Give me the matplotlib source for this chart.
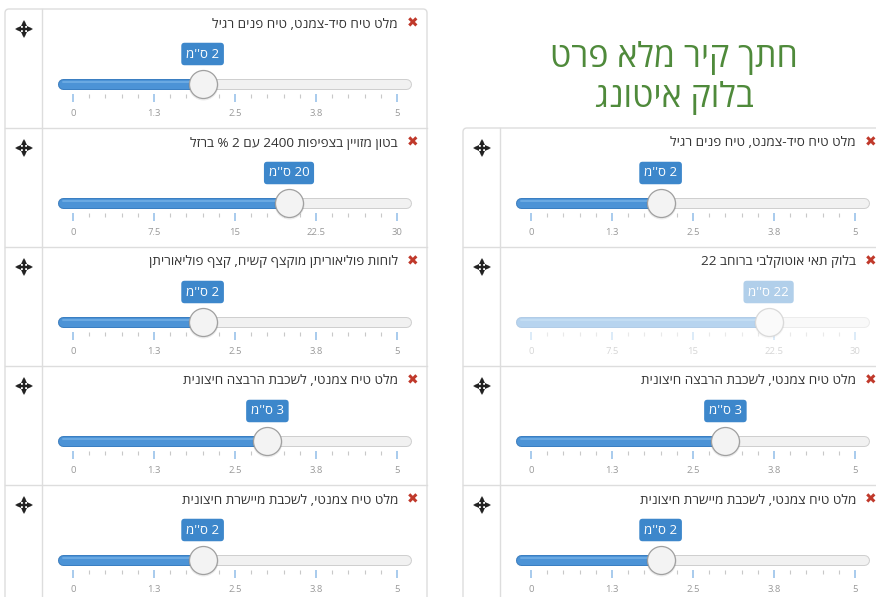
import re
import numpy as np
import matplotlib
matplotlib.use('Agg')
import matplotlib.pyplot as plt
from matplotlib.patches import FancyBboxPatch
from matplotlib.colors import to_rgb

plt.rcParams['font.family'] = ['Open Sans', 'DejaVu Sans']

W, H = 876, 597

# data
title_lines = ['חתך קיר מלא פרט', 'בלוק איטונג']

left_names = [
    'מלט טיח סיד-צמנט, טיח פנים רגיל',
    'בטון מזויין בצפיפות 2400 עם 2 % ברזל',
    'לוחות פוליאוריתן מוקצף קשיח, קצף פוליאוריתן',
    'מלט טיח צמנטי, לשכבת הרבצה חיצונית',
    'מלט טיח צמנטי, לשכבת מיישרת חיצונית',
]
left_values = [2, 20, 2, 3, 2]
left_max = [5, 30, 5, 5, 5]

right_names = [
    'מלט טיח סיד-צמנט, טיח פנים רגיל',
    'בלוק תאי אוטוקלבי ברוחב 22',
    'מלט טיח צמנטי, לשכבת הרבצה חיצונית',
    'מלט טיח צמנטי, לשכבת מיישרת חיצונית',
]
right_values = [2, 22, 3, 2]
right_max = [5, 30, 5, 5]
right_disabled = [False, True, False, False]

tick_labels = {5: ['0', '1.3', '2.5', '3.8', '5'],
               30: ['0', '7.5', '15', '22.5', '30']}
unit = "ס''מ"


def hebrew(s):
    # matplotlib has no bidi support: reverse, but keep digit runs left-to-right
    out = s[::-1]
    return re.sub(r'\d+', lambda m: m.group(0)[::-1], out)


def px(v):
    return v * 0.72  # pixels -> points at dpi 100


def fade(c, a):
    # mix a colour with white instead of using alpha (no stacking)
    r, g, b = to_rgb(c)
    return (1 - a + a * r, 1 - a + a * g, 1 - a + a * b)


fig = plt.figure(figsize=(W / 100, H / 100), dpi=100)
bg = fig.add_axes([0, 0, 1, 1])
bg.set_xlim(0, W)
bg.set_ylim(H, 0)
bg.axis('off')

BORDER = '#dddddd'
ROW = 119


def draw_box(x0, x1, top, n_rows):
    bottom = H + 30
    bg.add_patch(FancyBboxPatch((x0, top), x1 - x0, bottom - top,
                                boxstyle='round,pad=0,rounding_size=4',
                                fc='white', ec=BORDER, lw=1))
    for i in range(1, n_rows):
        bg.plot([x0, x1], [top + i * ROW] * 2, color=BORDER, lw=1)
    bg.plot([x0 + 37, x0 + 37], [top, bottom], color=BORDER, lw=1)


def draw_move(cx, cy):
    bg.plot([cx - 6, cx + 6], [cy, cy], color='#222', lw=1.7)
    bg.plot([cx, cx], [cy - 6, cy + 6], color='#222', lw=1.7)
    for mx, my, m in [(cx - 6, cy, '<'), (cx + 6, cy, '>'),
                      (cx, cy - 6, '^'), (cx, cy + 6, 'v')]:
        bg.plot(mx, my, marker=m, color='#222', ms=4.2, mew=0)


def draw_panel(x0, top, name, value, vmax, disabled=False):
    a = 0.4 if disabled else 1.0
    draw_move(x0 + 19, top + 20)
    bg.text(x0 + 393, top + 15, hebrew(name), ha='right', va='center',
            fontsize=9.7, color='#333333')
    bg.text(x0 + 408, top + 14, '✖', ha='center', va='center',
            fontsize=10, color='#c0392b', family='DejaVu Sans')

    # slider axes: 0 sits at x0+68, vmax at x0+392
    scale = vmax / 324.0
    sax = fig.add_axes([(x0 + 53) / W, 1 - (top + 85) / H, 353 / W, 55 / H])
    lo = -15 * scale
    sax.set_xlim(lo, lo + 353 * scale)
    sax.set_ylim(85, 30)
    sax.patch.set_visible(False)
    for sp in sax.spines.values():
        sp.set_visible(False)
    sax.set_yticks([])
    sax.set_xticks(np.linspace(0, vmax, 5))
    sax.set_xticklabels(tick_labels[vmax])
    sax.set_xticks(np.linspace(0, vmax, 21), minor=True)
    sax.tick_params(axis='x', which='major', length=6, width=1.2,
                    color=fade('#99c2ea', a), labelsize=6.8,
                    labelcolor=fade('#999999', a), pad=4.5)
    sax.tick_params(axis='x', which='minor', length=3, width=0.8,
                    color=fade('#c8c8c8', a))

    ty = 75
    x_start = lo + 5 * scale
    x_end = lo + 348 * scale
    kw = dict(solid_capstyle='round', clip_on=False)
    sax.plot([x_start, x_end], [ty, ty], color=fade('#cfcfcf', a), lw=px(11), **kw)
    sax.plot([x_start, x_end], [ty, ty], color=fade('#f1f1f1', a), lw=px(9), **kw)
    sax.plot([x_start, value], [ty, ty], color=fade('#3b7fc2', a), lw=px(11), **kw)
    sax.plot([x_start, value], [ty, ty], color=fade('#4c93d6', a), lw=px(9), **kw)
    sax.plot([x_start, value], [ty - 2, ty - 2], color=fade('#6aa9e2', a),
             lw=px(2), **kw)

    # knob
    sax.scatter([value], [ty + 1], s=px(30) ** 2, color='#000000',
                alpha=0.08 * a, lw=0, zorder=4, clip_on=False)
    sax.scatter([value], [ty], s=px(28) ** 2, fc=fade('#f3f3f3', a),
                ec=fade('#a0a0a0', a), lw=0.9, zorder=5, clip_on=False)

    # value label
    sax.text(value, 45, hebrew(f'{value} {unit}'), ha='center', va='center',
             fontsize=9.5, color='white', zorder=6,
             bbox=dict(boxstyle='round,pad=0.36,rounding_size=0.25',
                       fc=fade('#3d87cb', a), ec='none'))


draw_box(5, 427, 9, 5)
draw_box(463, 900, 128, 4)

for i, (n, v, m) in enumerate(zip(left_names, left_values, left_max)):
    draw_panel(5, 9 + i * ROW, n, v, m)

for i, (n, v, m, d) in enumerate(zip(right_names, right_values, right_max,
                                     right_disabled)):
    draw_panel(463, 128 + i * ROW, n, v, m, d)

bg.text(674, 58, hebrew(title_lines[0]), ha='center', va='center',
        fontsize=24.5, color='#4f8a3b')
bg.text(674, 98, hebrew(title_lines[1]), ha='center', va='center',
        fontsize=24.5, color='#4f8a3b')

fig.savefig('out.png', dpi=100)
